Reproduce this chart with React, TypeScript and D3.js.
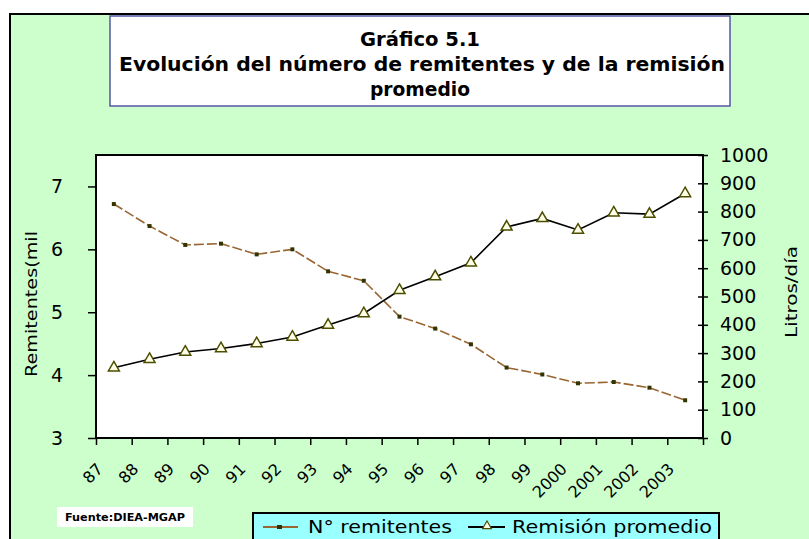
import { useEffect, useRef } from 'react'
import * as d3 from 'd3'

const years = ['87', '88', '89', '90', '91', '92', '93', '94', '95', '96', '97', '98', '99', '2000', '2001', '2002', '2003']
const remitentes = [6.72, 6.37, 6.07, 6.09, 5.92, 6.0, 5.65, 5.5, 4.93, 4.74, 4.49, 4.12, 4.01, 3.87, 3.89, 3.8, 3.6]
const remision = [248, 278, 304, 316, 334, 357, 399, 440, 522, 570, 619, 746, 776, 735, 796, 791, 864]
const leftTicks = [3, 4, 5, 6, 7]
const rightTicks = [0, 100, 200, 300, 400, 500, 600, 700, 800, 900, 1000]
const titleLines = ['Gráfico 5.1', 'Evolución del número de remitentes y de la remisión', 'promedio']
const seriesNames = ['N° remitentes', 'Remisión promedio']

const W = 809
const H = 539
const PL = 96
const PR = 703
const PT = 155
const PB = 438
const FONT = "'DejaVu Sans', Verdana, sans-serif"
const BROWN = '#996633'

export default function App() {
  const leftRef = useRef<SVGGElement>(null)
  const rightRef = useRef<SVGGElement>(null)
  const tickRef = useRef<SVGGElement>(null)
  const labelRef = useRef<SVGGElement>(null)

  const x = d3.scaleBand().domain(years).range([PL, PR]).padding(0)
  const xEdges = d3.scaleLinear().domain([0, years.length]).range([PL, PR])
  const yL = d3.scaleLinear().domain([3, 7.5]).range([PB, PT])
  const yR = d3.scaleLinear().domain([0, 1000]).range([PB, PT])
  const cx = (i: number) => (x(years[i]) ?? 0) + x.bandwidth() / 2

  const lineL = d3.line<number>().x((_, i) => cx(i)).y((d) => yL(d))
  const lineR = d3.line<number>().x((_, i) => cx(i)).y((d) => yR(d))
  const square = d3.symbol(d3.symbolSquare, 16)()
  const tri = d3.symbol(d3.symbolTriangle, 52)()

  useEffect(() => {
    document.body.style.margin = '0'

    const gl = d3.select(leftRef.current)
    gl.call(
      d3.axisLeft(yL).tickValues(leftTicks).tickFormat((d) => String(d)).tickSize(8).tickSizeOuter(0).tickPadding(25)
    )
    gl.select('.domain').remove()
    gl.selectAll('line').attr('stroke', '#000').attr('stroke-width', 1.5)
    gl.selectAll('text').attr('font-family', FONT).attr('font-size', 19).attr('fill', '#000')

    const gr = d3.select(rightRef.current)
    gr.call(
      d3.axisRight(yR).tickValues(rightTicks).tickFormat((d) => String(d)).tickSize(5).tickSizeOuter(0).tickPadding(12)
    )
    gr.select('.domain').remove()
    gr.selectAll('line').attr('x1', -5).attr('stroke', '#000').attr('stroke-width', 1.5)
    gr.selectAll('text').attr('font-family', FONT).attr('font-size', 19).attr('fill', '#000')

    const gt = d3.select(tickRef.current)
    gt.call(
      d3.axisBottom(xEdges)
        .tickValues(d3.range(years.length + 1))
        .tickSize(7)
        .tickSizeOuter(0)
        .tickFormat(() => '')
    )
    gt.select('.domain').remove()
    gt.selectAll('line').attr('stroke', '#000').attr('stroke-width', 1.5)

    const gx = d3.select(labelRef.current)
    gx.call(d3.axisBottom(x).tickSize(0).tickPadding(0))
    gx.select('.domain').remove()
    gx.selectAll('text')
      .attr('font-family', FONT)
      .attr('font-size', 16)
      .attr('fill', '#000')
      .attr('text-anchor', 'end')
      .attr('dy', 0)
      .attr('y', 0)
      .attr('transform', 'translate(-10,32) rotate(-45)')
  }, [])

  return (
    <svg width={W} height={H} style={{ position: 'absolute', left: 0, top: 0, background: '#fff' }}>
      {/* chart area */}
      <rect x={10} y={14} width={820} height={540} fill="#ccffcc" stroke="#000" strokeWidth={2} />

      {/* title */}
      <rect x={110} y={16} width={620} height={90} fill="#fff" stroke="#5555a5" strokeWidth={1.5} />
      <g fontFamily={FONT} fontWeight="bold" fontSize={19} textAnchor="middle" fill="#000">
        <text x={420} y={46} textLength={120} lengthAdjust="spacingAndGlyphs">{titleLines[0]}</text>
        <text x={422} y={71} textLength={606} lengthAdjust="spacingAndGlyphs">{titleLines[1]}</text>
        <text x={420} y={96} textLength={100} lengthAdjust="spacingAndGlyphs">{titleLines[2]}</text>
      </g>

      {/* plot area */}
      <rect x={PL} y={PT} width={PR - PL} height={PB - PT} fill="#fff" stroke="#000" strokeWidth={2} />

      <g ref={leftRef} transform={`translate(${PL},0)`} />
      <g ref={rightRef} transform={`translate(${PR},0)`} />
      <g ref={tickRef} transform={`translate(0,${PB})`} />
      <g ref={labelRef} transform={`translate(0,${PB})`} />

      {/* axis titles */}
      <text
        transform="translate(37,304) rotate(-90)"
        textAnchor="middle"
        fontFamily={FONT}
        fontSize={16}
        textLength={146}
        lengthAdjust="spacingAndGlyphs"
      >
        Remitentes(mil
      </text>
      <text
        transform="translate(797,292) rotate(-90)"
        textAnchor="middle"
        fontFamily={FONT}
        fontSize={16}
        textLength={92}
        lengthAdjust="spacingAndGlyphs"
      >
        Litros/día
      </text>

      {/* remitentes */}
      <path d={lineL(remitentes) ?? ''} fill="none" stroke={BROWN} strokeWidth={1.6} strokeDasharray="10 3" />
      {remitentes.map((d, i) => (
        <path key={'s' + i} d={square ?? ''} transform={`translate(${cx(i)},${yL(d)})`} fill="#333300" />
      ))}

      {/* remision */}
      <path d={lineR(remision) ?? ''} fill="none" stroke="#000" strokeWidth={1.6} />
      {remision.map((d, i) => (
        <path
          key={'t' + i}
          d={tri ?? ''}
          transform={`translate(${cx(i)},${yR(d)})`}
          fill="#ffffe8"
          stroke="#4d4d00"
          strokeWidth={1.5}
        />
      ))}

      {/* source */}
      <rect x={57} y={507} width={136} height={20} fill="#fff" />
      <text x={65} y={521} fontFamily={FONT} fontWeight="bold" fontSize={10} textLength={120} lengthAdjust="spacingAndGlyphs">
        Fuente:DIEA-MGAP
      </text>

      {/* legend */}
      <rect x={253} y={513} width={466} height={30} fill="#99ffff" stroke="#000" strokeWidth={2} />
      <line x1={263} x2={298} y1={527} y2={527} stroke={BROWN} strokeWidth={2} />
      <rect x={277} y={525} width={5} height={4} fill="#333300" />
      <text x={308} y={533} fontFamily={FONT} fontSize={18} textLength={144} lengthAdjust="spacingAndGlyphs">
        {seriesNames[0]}
      </text>
      <line x1={468} x2={505} y1={527} y2={527} stroke="#000" strokeWidth={2} />
      <path d={tri ?? ''} transform="translate(487,526) scale(0.8)" fill="#ffffe8" stroke="#4d4d00" strokeWidth={1.5} />
      <text x={512} y={533} fontFamily={FONT} fontSize={18} textLength={200} lengthAdjust="spacingAndGlyphs">
        {seriesNames[1]}
      </text>
    </svg>
  )
}
